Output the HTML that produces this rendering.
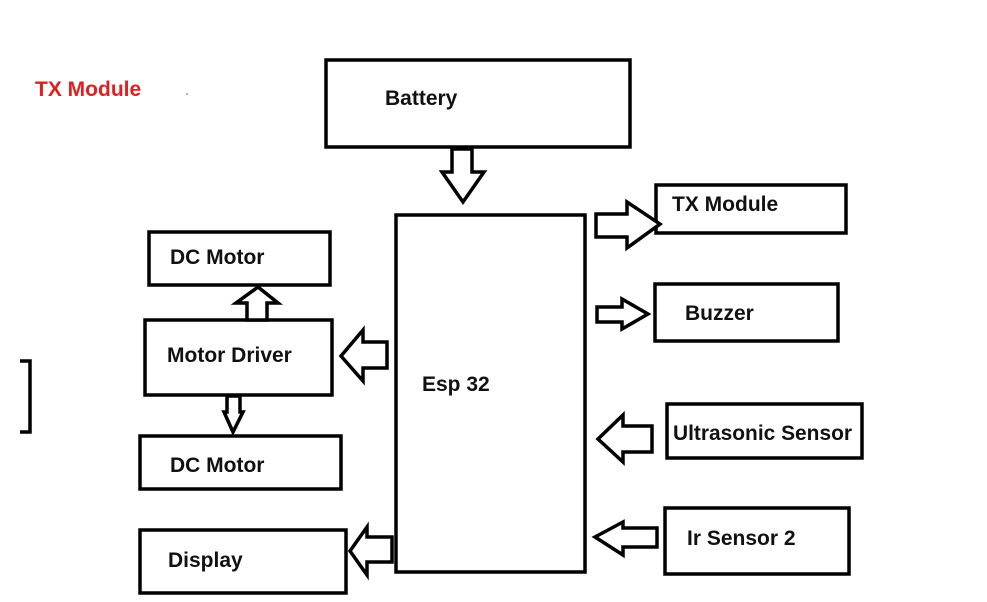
<!DOCTYPE html>
<html><head><style>
body{margin:0;background:#fff}
svg{display:block}
text{font-family:"Liberation Sans",sans-serif;font-weight:bold;font-size:21px;fill:#111}
</style></head><body>
<svg width="987" height="602" viewBox="0 0 987 602">
<g fill="none" stroke="#000" stroke-width="3.5" stroke-linejoin="miter">
<rect x="326" y="60" width="304" height="87"/>
<rect x="396" y="215" width="189" height="357"/>
<rect x="656" y="185" width="190" height="48"/>
<rect x="655" y="284" width="183" height="57"/>
<rect x="667" y="404" width="195" height="54"/>
<rect x="665" y="508" width="184" height="66"/>
<rect x="149" y="232" width="181" height="53"/>
<rect x="145" y="320" width="187" height="75"/>
<rect x="140" y="436" width="201" height="53"/>
<rect x="140" y="530" width="206" height="63"/>
<polyline points="20,361 30,361 30,432 20,432"/>
<polygon fill="#fff" points="452,149 472,149 472,172 484,172 463,202 442,172 452,172"/>
<polygon fill="#fff" points="596,214 627,214 627,202 660,224 627,248 627,237 596,237"/>
<polygon fill="#fff" points="597,307 622,307 622,299 648,314 622,329 622,322 597,322"/>
<polygon fill="#fff" points="387,342 363,342 363,330 341,356 363,381 363,368 387,368"/>
<polygon fill="#fff" points="247,320 247,303 236,303 258,287 278,303 267,303 267,320"/>
<polygon fill="#fff" points="227,396 240,396 240,412 243,412 233,432 224,412 227,412"/>
<polygon fill="#fff" points="392,537 367,537 367,527 350,551 367,575 367,562 392,562"/>
<polygon fill="#fff" points="652,426 623,426 623,415 598,439 623,462 623,452 652,452"/>
<polygon fill="#fff" points="657,528 623,528 623,522 595,537 623,555 623,547 657,547"/>
</g>
<text x="35" y="96" style="fill:#e02020">TX Module</text>
<circle cx="187" cy="94" r="0.8" fill="#555"/>
<text x="385" y="105">Battery</text>
<text x="422" y="391">Esp 32</text>
<text x="672" y="211">TX Module</text>
<text x="685" y="320">Buzzer</text>
<text x="673" y="440" textLength="179" lengthAdjust="spacingAndGlyphs">Ultrasonic Sensor</text>
<text x="687" y="545">Ir Sensor 2</text>
<text x="170" y="264">DC Motor</text>
<text x="167" y="362">Motor Driver</text>
<text x="170" y="472">DC Motor</text>
<text x="168" y="567">Display</text>
</svg>
</body></html>
